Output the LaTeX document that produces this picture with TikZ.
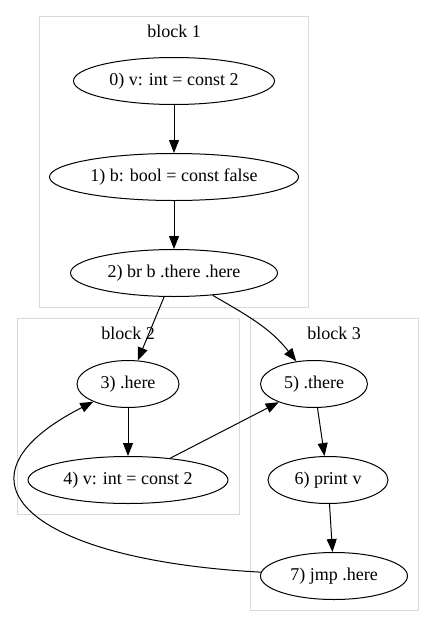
\documentclass[tikz,border=0pt]{standalone}
\usepackage{fontspec}
\setmainfont{Liberation Serif}
\usetikzlibrary{arrows.meta,shapes.geometric}

\begin{document}
\begin{tikzpicture}[x=1pt,y=-1pt,
  op/.style={draw,ellipse,inner sep=0pt,line width=1pt,minimum height=47pt,font=\fontsize{18}{20}\selectfont},
  block/.style={draw=gray!30,line width=1pt},
  blocklabel/.style={font=\fontsize{18}{20}\selectfont},
  flow/.style={-{Triangle[length=13pt,width=10pt]},line width=1pt}]
\useasboundingbox (0,0) rectangle (434,627);
\draw[block] (39,16) rectangle (308,307);
\draw[block] (17,318) rectangle (239,514);
\draw[block] (250,318) rectangle (418,610);
\node[blocklabel] (lab1) at (174,31) {block 1};
\node[blocklabel] (lab2) at (128,333) {block 2};
\node[blocklabel] (lab3) at (334,333) {block 3};

\node[op,minimum width=201pt] (n0) at (174,81) {0) v: int = const 2};
\node[op,minimum width=249pt] (n1) at (174,177) {1) b: bool = const false};
\node[op,minimum width=207pt] (n2) at (174,273) {2) br b .there .here};
\node[op,minimum width=102pt] (n3) at (128,384) {3) .here};
\node[op,minimum width=200pt] (n4) at (128,480) {4) v: int = const 2};
\node[op,minimum width=107pt] (n5) at (314,384) {5) .there};
\node[op,minimum width=120pt] (n6) at (328,480) {6) print v};
\node[op,minimum width=147pt] (n7) at (334,576) {7) jmp .here};

  \draw[flow] (n0) -- (n1);
  \draw[flow] (n1) -- (n2);
  \draw[flow] (n2) -- (n3);
  \draw[flow] (n2) to[out=-30,in=128] (n5);
  \draw[flow] (n3) -- (n4);
  \draw[flow] (n4) -- (n5);
  \draw[flow] (n5) -- (n6);
  \draw[flow] (n6) -- (n7);
  \draw[flow] (n7) .. controls (30,560) and (-60,480) .. (n3);
\end{tikzpicture}
\end{document}
